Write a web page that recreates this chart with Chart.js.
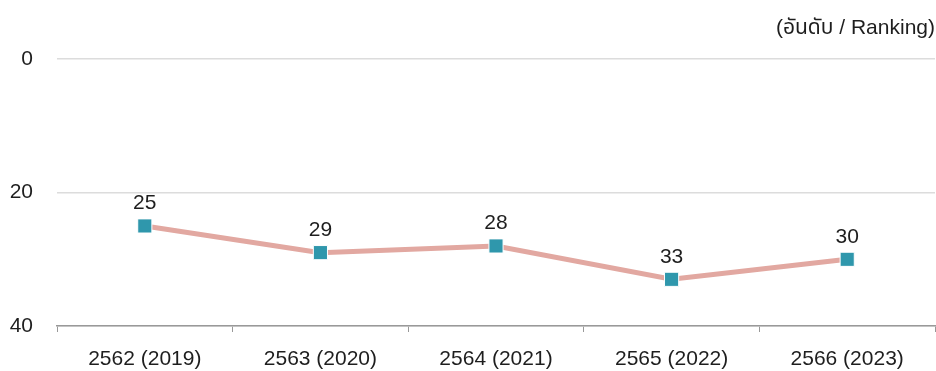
<!DOCTYPE html>
<html>
<head>
<meta charset="utf-8">
<script src="https://cdn.jsdelivr.net/npm/chart.js@4/dist/chart.umd.min.js"></script>
<style>
html,body{margin:0;padding:0;background:#fff;}
#wrap{width:936px;height:371px;}
</style>
</head>
<body>
<div id="wrap"><canvas id="c" width="936" height="371"></canvas></div>
<script>
const categories = ["2562 (2019)", "2563 (2020)", "2564 (2021)", "2565 (2022)", "2566 (2023)"];
const rankings = [25, 29, 28, 33, 30];
const yTicks = [0, 20, 40];
const unitLabel = "(อันดับ / Ranking)";

const FONT = '"Liberation Sans", Arial, "Noto Sans Thai", "Noto Sans", sans-serif';

const valueLabels = {
  id: 'valueLabels',
  afterDatasetsDraw(chart) {
    const ctx = chart.ctx;
    const meta = chart.getDatasetMeta(0);
    ctx.save();
    ctx.font = '21px ' + FONT;
    ctx.fillStyle = '#1e1e1e';
    ctx.textAlign = 'center';
    ctx.textBaseline = 'bottom';
    meta.data.forEach((pt, i) => {
      ctx.fillText(String(chart.data.datasets[0].data[i]), pt.x, pt.y - 12);
    });
    ctx.restore();
  }
};

new Chart(document.getElementById('c'), {
  type: 'line',
  data: {
    labels: categories,
    datasets: [{
      data: rankings,
      borderColor: '#e2a8a1',
      borderWidth: 5,
      pointStyle: 'rect',
      pointRadius: 10,
      pointHoverRadius: 10,
      pointBackgroundColor: '#2f97ac',
      pointBorderColor: '#ffffff',
      pointBorderWidth: 1,
      tension: 0
    }]
  },
  options: {
    responsive: false,
    animation: false,
    devicePixelRatio: 1,
    layout: { autoPadding: false, padding: { left: 0, right: 1, top: 0, bottom: 0 } },
    plugins: {
      legend: { display: false },
      tooltip: { enabled: false },
      title: {
        display: true,
        text: unitLabel,
        align: 'end',
        color: '#1e1e1e',
        font: { family: FONT, size: 21, weight: 'normal' },
        padding: { top: 16, bottom: 18 }
      }
    },
    scales: {
      x: {
        offset: true,
        afterFit(scale) { scale.paddingLeft = 0; scale.paddingRight = 0; scale.height = 45; },
        grid: {
          offset: true,
          drawOnChartArea: false,
          drawTicks: true,
          tickLength: 6,
          color: '#999'
        },
        border: { display: true, color: '#999', width: 1.5 },
        ticks: {
          color: '#1e1e1e',
          font: { family: FONT, size: 21 },
          padding: 15,
          maxRotation: 0
        }
      },
      y: {
        reverse: true,
        min: 0,
        max: 40,
        afterBuildTicks(scale) { scale.ticks = yTicks.map(v => ({ value: v })); },
        afterFit(scale) { scale.width = 57; },
        grid: { color: '#dcdcdc', lineWidth: 1.5, drawTicks: false },
        border: { display: false },
        ticks: {
          color: '#1e1e1e',
          font: { family: FONT, size: 21 },
          padding: 24
        }
      }
    }
  },
  plugins: [valueLabels]
});
</script>
</body>
</html>
